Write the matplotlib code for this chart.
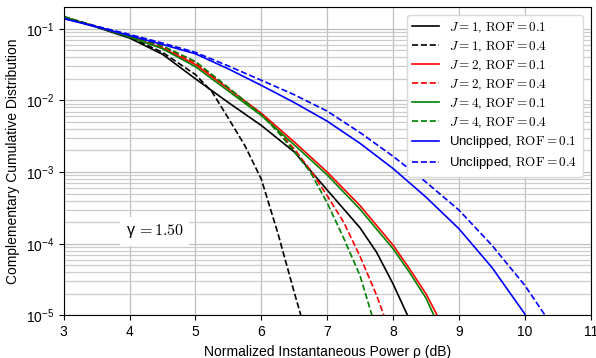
import matplotlib
matplotlib.use('Agg')
import matplotlib.pyplot as plt

plt.rcParams['font.family'] = ['Liberation Sans', 'DejaVu Sans']
plt.rcParams['mathtext.fontset'] = 'cm'

# CCDF (x in dB)
x_j1_01 = [3, 3.5, 4, 4.5, 5, 5.5, 6, 6.5, 7, 7.5, 7.75, 8, 8.22]
y_j1_01 = [0.145, 0.105, 0.0741, 0.0440, 0.0200, 0.00933, 0.00447, 0.00191,
           5.62e-4, 1.66e-4, 7.59e-5, 2.75e-5, 1.0e-5]

x_j1_04 = [3, 3.5, 4, 4.5, 5, 5.25, 5.5, 5.75, 6, 6.25, 6.5, 6.6]
y_j1_04 = [0.147, 0.106, 0.0759, 0.0468, 0.0229, 0.0132, 0.00562, 0.00234,
           7.94e-4, 1.41e-4, 2.09e-5, 1.0e-5]

x_j2_01 = [3, 3.5, 4, 4.5, 5, 5.5, 6, 6.5, 7, 7.5, 8, 8.25, 8.5, 8.67]
y_j2_01 = [0.145, 0.107, 0.0776, 0.0537, 0.0316, 0.0145, 0.00661, 0.00263,
           0.00100, 3.39e-4, 9.55e-5, 4.47e-5, 2.0e-5, 1.0e-5]

x_j2_04 = [3, 3.5, 4, 4.5, 5, 5.5, 6, 6.25, 6.5, 6.75, 7, 7.25, 7.5, 7.75, 7.86]
y_j2_04 = [0.146, 0.107, 0.0785, 0.0562, 0.0335, 0.0148, 0.00646, 0.00380,
           0.00209, 0.00105, 4.68e-4, 2.0e-4, 6.61e-5, 1.91e-5, 1.0e-5]

x_j4_01 = [3, 3.5, 4, 4.5, 5, 5.5, 6, 6.5, 7, 7.5, 8, 8.25, 8.5, 8.62]
y_j4_01 = [0.145, 0.106, 0.0767, 0.0525, 0.0295, 0.0135, 0.00617, 0.00240,
           9.12e-4, 3.02e-4, 8.51e-5, 3.98e-5, 1.74e-5, 1.0e-5]

x_j4_04 = [3, 3.5, 4, 4.5, 5, 5.5, 6, 6.25, 6.5, 6.75, 7, 7.25, 7.5, 7.68]
y_j4_04 = [0.148, 0.108, 0.0794, 0.0575, 0.0349, 0.0151, 0.00631, 0.00363,
           0.00195, 9.77e-4, 3.72e-4, 1.20e-4, 3.55e-5, 1.0e-5]

x_unc_01 = [3, 3.5, 4, 4.5, 5, 5.5, 6, 6.5, 7, 7.5, 8, 8.5, 9, 9.5, 10, 10.01]
y_unc_01 = [0.138, 0.106, 0.0804, 0.0603, 0.0447, 0.0275, 0.0162, 0.00933,
            0.00513, 0.00251, 0.00112, 4.47e-4, 1.62e-4, 4.68e-5, 1.05e-5, 1.0e-5]

x_unc_04 = [3, 3.5, 4, 4.5, 5, 5.5, 6, 6.5, 7, 7.5, 8, 8.5, 9, 9.5, 10, 10.31]
y_unc_04 = [0.140, 0.108, 0.0832, 0.0631, 0.0468, 0.0302, 0.0191, 0.0120,
            0.00708, 0.00355, 0.00166, 7.24e-4, 2.95e-4, 9.55e-5, 2.63e-5, 1.0e-5]

gamma_label = r'γ$\,=1.50$'


def main():
	fig = plt.figure(figsize=(5.96, 3.58), dpi=100)
	ax = fig.add_axes([0.107, 0.119, 0.884, 0.861])

	ax.semilogy(x_j1_01, y_j1_01, color='k', ls='-', lw=1.2, label=r'$J=1$, $\mathrm{ROF}=0.1$')
	ax.semilogy(x_j1_04, y_j1_04, color='k', ls='--', lw=1.2, label=r'$J=1$, $\mathrm{ROF}=0.4$')
	ax.semilogy(x_j2_01, y_j2_01, color='r', ls='-', lw=1.2, label=r'$J=2$, $\mathrm{ROF}=0.1$')
	ax.semilogy(x_j2_04, y_j2_04, color='r', ls='--', lw=1.2, label=r'$J=2$, $\mathrm{ROF}=0.4$')
	ax.semilogy(x_j4_01, y_j4_01, color='g', ls='-', lw=1.2, label=r'$J=4$, $\mathrm{ROF}=0.1$')
	ax.semilogy(x_j4_04, y_j4_04, color='g', ls='--', lw=1.2, label=r'$J=4$, $\mathrm{ROF}=0.4$')
	ax.semilogy(x_unc_01, y_unc_01, color='b', ls='-', lw=1.2, label=r'Unclipped, $\mathrm{ROF}=0.1$')
	ax.semilogy(x_unc_04, y_unc_04, color='b', ls='--', lw=1.2, label=r'Unclipped, $\mathrm{ROF}=0.4$')

	ax.set_xlim(3, 11)
	ax.set_ylim(1e-5, 0.2)
	ax.set_xticks(range(3, 12))

	ax.grid(True, which='major', color='0.75', lw=0.9)
	ax.grid(True, which='minor', axis='y', color='0.8', lw=0.9)
	ax.tick_params(which='minor', length=0)
	ax.tick_params(labelsize=10)

	ax.set_xlabel('Normalized Instantaneous Power ρ (dB)', fontsize=10)
	ax.set_ylabel('Complementary Cumulative Distribution', fontsize=10)

	ax.text(4.38, 1.5e-4, gamma_label, fontsize=11.5, ha='center', va='center',
		bbox=dict(facecolor='white', edgecolor='none', pad=4))

	ax.legend(loc='upper right', fontsize=9.5, framealpha=1, edgecolor='0.85',
		labelspacing=0.38, borderaxespad=0.6)

	fig.savefig('out.png', dpi=100)


if __name__ == '__main__':
	main()
